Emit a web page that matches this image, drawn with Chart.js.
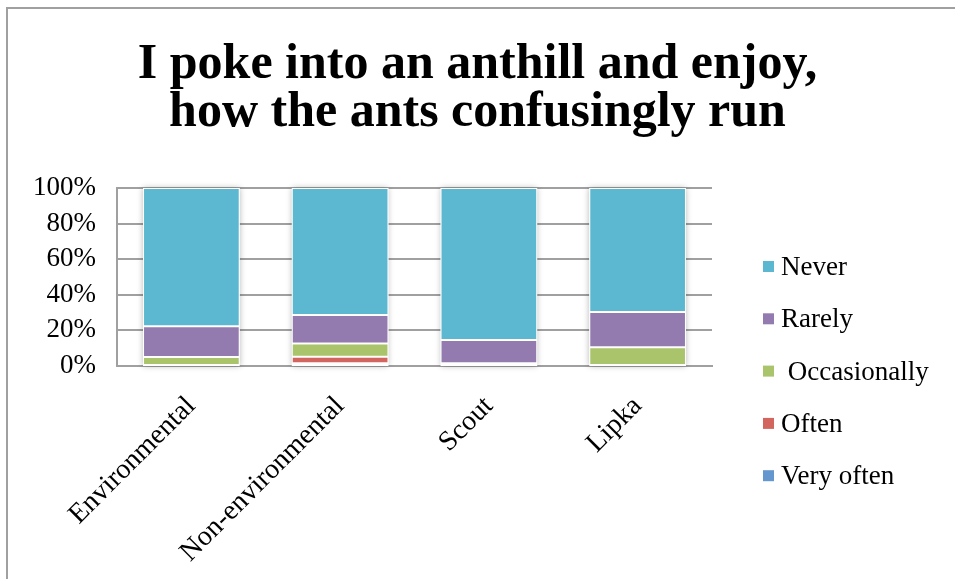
<!DOCTYPE html>
<html>
<head>
<meta charset="utf-8">
<script src="https://cdn.jsdelivr.net/npm/chart.js@4/dist/chart.umd.min.js"></script>
<style>
  html, body { margin: 0; padding: 0; background: #fff; }
  #wrap { position: relative; width: 955px; height: 579px; overflow: hidden; background: #fff; }
  #frame { position: absolute; left: 6px; top: 7px; width: 1000px; height: 1000px; border: 2px solid #a0a0a0; }
  canvas { position: absolute; left: 0; top: 0; }
</style>
</head>
<body>
<div id="wrap">
  <div id="frame"></div>
  <canvas id="c" width="955" height="579"></canvas>
</div>
<script>
// Survey answers per group, in percent of respondents
const categories = ['Environmental', 'Non-environmental', 'Scout', 'Lipka'];
const veryOften    = [0, 1.5, 0, 0];
const often        = [0, 3.7, 0, 0];
const occasionally = [5.0, 7.5, 1.5, 10.6];
const rarely       = [17.4, 15.9, 13.1, 19.7];
const never        = [77.6, 71.4, 85.4, 69.7];
const seriesNames  = ['Very often', 'Often', ' Occasionally', 'Rarely', 'Never'];
const seriesColors = ['#6497CE', '#D2665F', '#AAC46C', '#937BB0', '#5BB8D0'];
const yTickStep = 20;

const FONT = "'Liberation Serif', 'Times New Roman', serif";

// soft drop shadow behind each full stacked column
const columnShadow = {
  id: 'columnShadow',
  beforeDatasetsDraw(chart) {
    const ctx = chart.ctx;
    const y = chart.scales.y;
    const meta = chart.getDatasetMeta(0);
    ctx.save();
    ctx.shadowColor = 'rgba(0,0,0,0.28)';
    ctx.shadowBlur = 6;
    ctx.fillStyle = '#fff';
    meta.data.forEach(bar => {
      const top = y.getPixelForValue(100);
      const bottom = y.getPixelForValue(0);
      ctx.fillRect(bar.x - bar.width / 2, top, bar.width, bottom - top);
    });
    ctx.restore();
  }
};

// vertical legend on the right, top entry = last series
const sideLegend = {
  id: 'sideLegend',
  afterDraw(chart) {
    const ctx = chart.ctx;
    const sets = chart.data.datasets.slice().reverse();
    ctx.save();
    ctx.font = '27px ' + FONT;
    ctx.textBaseline = 'middle';
    sets.forEach((ds, i) => {
      const cy = 267 + i * 52.3;
      ctx.fillStyle = ds.backgroundColor;
      ctx.fillRect(763, cy - 6, 11, 11);
      ctx.fillStyle = '#000';
      ctx.fillText(ds.label, 781, cy + 1);
    });
    ctx.restore();
  }
};

const seriesData = [veryOften, often, occasionally, rarely, never];

new Chart(document.getElementById('c'), {
  type: 'bar',
  data: {
    labels: categories,
    datasets: seriesData.map((d, i) => ({
      label: seriesNames[i],
      data: d,
      backgroundColor: seriesColors[i],
      borderColor: '#ffffff',
      borderWidth: 1,
      borderSkipped: false,
      categoryPercentage: 1.0,
      barPercentage: 0.65
    }))
  },
  options: {
    responsive: false,
    devicePixelRatio: 1,
    animation: false,
    layout: { padding: { left: 0, right: 0, top: 0, bottom: 0 } },
    plugins: {
      legend: { display: false },
      tooltip: { enabled: false },
      title: {
        display: true,
        text: ['I poke into an anthill and enjoy,', 'how the ants confusingly run'],
        color: '#000',
        font: { family: FONT, size: 50, weight: 'bold', lineHeight: 0.96 },
        padding: { top: 41, bottom: 51 }
      }
    },
    scales: {
      x: {
        stacked: true,
        grid: { display: false, drawTicks: false },
        border: { display: true, color: '#a0a0a0', width: 2 },
        ticks: {
          color: '#000',
          font: { family: FONT, size: 28 },
          minRotation: 45,
          maxRotation: 45,
          padding: 24
        },
        afterFit(scale) { scale.height = 213; }
      },
      y: {
        stacked: true,
        min: 0,
        max: 100,
        grid: { color: '#a0a0a0', lineWidth: 2, drawTicks: false },
        border: { display: true, color: '#a0a0a0', width: 2 },
        ticks: {
          stepSize: yTickStep,
          autoSkip: false,
          color: '#000',
          font: { family: FONT, size: 27 },
          padding: 21,
          callback: v => v + '%'
        },
        afterFit(scale) { scale.width = 117; }
      },
      // empty right-hand band that leaves room for the legend
      legendSpace: {
        type: 'linear',
        position: 'right',
        display: true,
        grid: { display: false, drawTicks: false },
        border: { display: false },
        ticks: { display: false },
        afterFit(scale) { scale.width = 243; }
      }
    }
  },
  plugins: [columnShadow, sideLegend]
});
</script>
</body>
</html>
